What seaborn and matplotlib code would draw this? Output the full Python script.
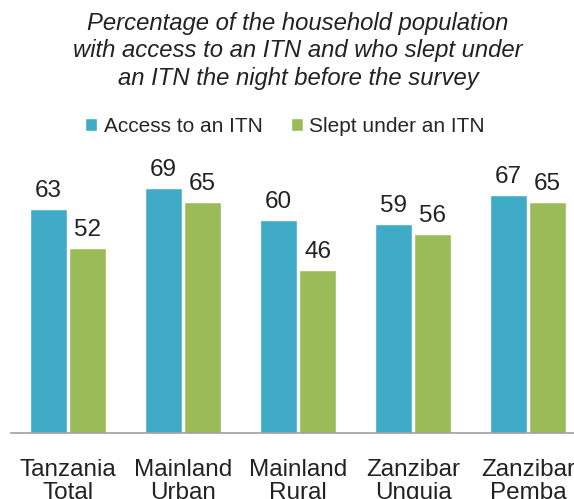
import matplotlib
matplotlib.use("Agg")
import matplotlib.pyplot as plt
import pandas as pd
import seaborn as sns

# ---- data ----
regions = ["Tanzania\nTotal", "Mainland\nUrban", "Mainland\nRural",
           "Zanzibar\nUnguja", "Zanzibar\nPemba"]
series = ["Access to an ITN", "Slept under an ITN"]
access = [63, 69, 60, 59, 67]
slept = [52, 65, 46, 56, 65]
colors = ["#40ABC7", "#9BBB59"]

df = pd.DataFrame({
    "region": regions * 2,
    "series": [series[0]] * len(regions) + [series[1]] * len(regions),
    "pct": access + slept,
})

sns.set_theme(style="white")
plt.rcParams["font.family"] = ["Liberation Sans", "DejaVu Sans"]

fig = plt.figure(figsize=(5.74, 4.99), dpi=100)
# axes runs past the right edge, like the cropped original
ax = fig.add_axes([10.5 / 574, 66 / 499, 575 / 574, 284 / 499])

sns.barplot(data=df, x="region", y="pct", hue="series", order=regions,
            hue_order=series, palette=colors, width=0.68, gap=0.05,
            saturation=1, ax=ax)

for cont in ax.containers:
    ax.bar_label(cont, fmt="%d", padding=5, fontsize=17.5, color="#222222")

ax.set_xlim(-0.5, 4.5)
ax.set_ylim(0, 80)
ax.set_xlabel(""); ax.set_ylabel("")
ax.set_yticks([])
ax.tick_params(axis="x", length=0, labelsize=17.5, pad=19, colors="#222222")
for lab in ax.get_xticklabels():
    lab.set_linespacing(1.05)
for s in ["top", "right", "left"]:
    ax.spines[s].set_visible(False)
ax.spines["bottom"].set_color("#A0A0A0")
ax.spines["bottom"].set_linewidth(1.2)

handles, labels = ax.get_legend_handles_labels()
ax.legend_.remove()
fig.legend(handles, labels, loc="center", bbox_to_anchor=(285 / 574, 1 - 126 / 499),
           ncol=2, frameon=False, fontsize=15, handlelength=0.6, handleheight=0.6,
           handletextpad=0.3, columnspacing=1.35)

fig.text(298 / 574, 1 - 51 / 499,
         "Percentage of the household population\n"
         "with access to an ITN and who slept under\n"
         "an ITN the night before the survey",
         ha="center", va="center", fontsize=17.2, style="italic",
         color="#222222", linespacing=1.25)

fig.savefig("out.png", dpi=100)
